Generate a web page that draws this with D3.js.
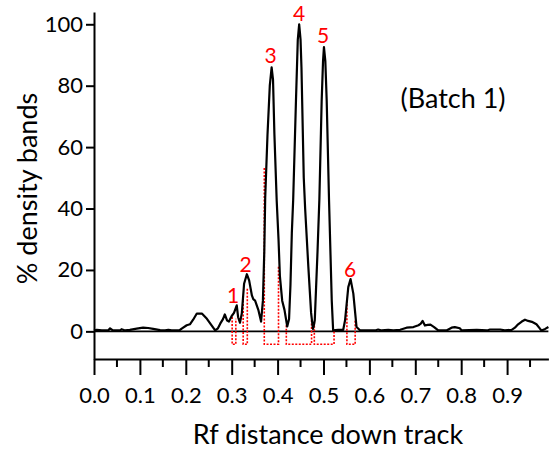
<!DOCTYPE html>
<html>
<head>
<meta charset="utf-8">
<script src="https://cdn.jsdelivr.net/npm/d3@7"></script>
<style>
  body { margin: 0; background: #fff; }
  svg { display: block; font-family: Lato, "Open Sans", sans-serif; }
</style>
</head>
<body>
<svg id="chart" width="550" height="455"></svg>
<script>
// Densitometria de bandas (Batch 1)
const W = 550, H = 455;

// Traza: [Rf, % densidad]
const tracePoints = [
  [0.000, 0.3], [0.006, 0.5], [0.017, 0.3], [0.031, 0.3], [0.035, 1.0], [0.041, 0.3],
  [0.057, 0.3], [0.060, 0.7], [0.068, 0.3], [0.078, 0.5], [0.093, 0.9], [0.107, 1.2],
  [0.118, 1.1], [0.129, 0.8], [0.144, 0.4], [0.155, 0.3], [0.162, 0.5], [0.169, 0.3],
  [0.186, 0.3], [0.191, 0.9], [0.202, 2.0], [0.209, 2.3], [0.216, 3.8], [0.224, 5.8],
  [0.235, 5.8], [0.246, 4.1], [0.264, 0.3], [0.270, 1.0], [0.275, 2.5], [0.281, 4.0],
  [0.285, 5.5], [0.290, 3.5], [0.294, 3.2], [0.300, 5.0], [0.305, 6.0], [0.311, 8.5],
  [0.314, 4.6], [0.318, 2.8], [0.322, 5.8], [0.327, 15.5], [0.333, 18.6], [0.338, 16.6],
  [0.344, 11.7], [0.347, 10.5], [0.351, 10.0], [0.358, 7.0], [0.364, 3.2], [0.368, 10.0],
  [0.371, 26.0], [0.373, 43.5], [0.378, 64.0], [0.383, 80.0], [0.387, 86.0], [0.390, 82.0],
  [0.393, 64.4], [0.398, 42.7], [0.402, 30.0], [0.405, 18.0], [0.410, 10.0], [0.415, 7.0],
  [0.421, 1.6], [0.425, 4.0], [0.428, 15.0], [0.431, 32.0], [0.434, 43.0], [0.440, 75.0],
  [0.444, 95.0], [0.447, 100.0], [0.450, 95.0], [0.452, 86.0], [0.457, 50.0], [0.460, 40.0],
  [0.467, 21.0], [0.473, 6.0], [0.477, 0.8], [0.479, 2.0], [0.481, 3.6], [0.487, 26.0],
  [0.491, 43.0], [0.496, 75.0], [0.499, 88.0], [0.501, 92.6], [0.504, 88.0], [0.507, 75.0],
  [0.512, 43.0], [0.518, 10.0], [0.521, 0.3], [0.532, 0.5], [0.543, 0.5], [0.547, 3.6],
  [0.554, 14.4], [0.559, 17.0], [0.565, 12.3], [0.572, 1.4], [0.580, 0.3], [0.612, 0.3],
  [0.619, 0.6], [0.627, 0.3], [0.641, 0.5], [0.652, 0.3], [0.667, 0.5], [0.681, 1.2],
  [0.696, 1.4], [0.707, 2.0], [0.712, 2.5], [0.716, 3.4], [0.721, 1.9], [0.727, 2.1],
  [0.733, 2.2], [0.741, 1.4], [0.750, 0.3], [0.768, 0.3], [0.779, 1.2], [0.786, 1.4],
  [0.797, 1.0], [0.801, 0.3], [0.834, 0.5], [0.856, 0.3], [0.863, 0.6], [0.885, 0.6],
  [0.895, 0.3], [0.910, 0.5], [0.917, 1.2], [0.924, 2.3], [0.932, 3.2], [0.939, 3.8],
  [0.946, 3.4], [0.954, 3.1], [0.964, 2.3], [0.972, 0.8], [0.975, 0.3], [0.983, 0.8],
  [0.990, 1.4]
];

// Limites de integracion de cada banda: [Rf izq, alto izq, Rf der, alto der]
const bandBoxes = [
  [0.301, 4.7, 0.309, 4.1],
  [0.325, 11.2, 0.334, 14.4],
  [0.371, 53.2, 0.402, 21.5],
  [0.419, 2.0, 0.474, 3.6],
  [0.480, 3.0, 0.523, 0.0],
  [0.551, 10.0, 0.569, 3.8]
];
const boxBottom = -4.2;

// Etiquetas de bandas: [texto, Rf, valor de la linea base]
const bandLabels = [
  ["1", 0.303, 9.1],
  ["2", 0.3305, 19.3],
  ["3", 0.3845, 87.4],
  ["4", 0.4466, 101.1],
  ["5", 0.499, 93.8],
  ["6", 0.5577, 17.7]
];

const xTicks = [0, 0.1, 0.2, 0.3, 0.4, 0.5, 0.6, 0.7, 0.8, 0.9];
const xMinorTicks = [0.05, 0.15, 0.25, 0.35, 0.45, 0.55, 0.65, 0.75, 0.85, 0.95];
const yTicks = [0, 20, 40, 60, 80, 100];

const svg = d3.select("#chart");

const x = d3.scaleLinear().domain([0, 0.99]).range([94, 548.4]);
const y = d3.scaleLinear().domain([-9, 104]).range([359, 12]);

// Ejes
const xAxis = d3.axisBottom(x)
  .tickValues(xTicks)
  .tickFormat(d3.format(".1f"))
  .tickSize(16)
  .tickSizeOuter(0)
  .tickPadding(12);

svg.append("g")
  .attr("transform", `translate(0,${y(-9)})`)
  .call(xAxis)
  .call(g => g.select(".domain").attr("stroke", "#000").attr("stroke-width", 2))
  .call(g => g.selectAll(".tick line").attr("stroke", "#000").attr("stroke-width", 2))
  .call(g => g.selectAll(".tick text").attr("fill", "#000").style("font-size", "22px").style("font-family", "Lato"));

svg.append("g")
  .attr("transform", `translate(0,${y(-9)})`)
  .selectAll("line")
  .data(xMinorTicks)
  .join("line")
  .attr("x1", d => x(d)).attr("x2", d => x(d))
  .attr("y1", 0).attr("y2", 8)
  .attr("stroke", "#000").attr("stroke-width", 2);

const yAxis = d3.axisLeft(y)
  .tickValues(yTicks)
  .tickSize(8)
  .tickSizeOuter(0)
  .tickPadding(3);

svg.append("g")
  .attr("transform", `translate(${x(0)},0)`)
  .call(yAxis)
  .call(g => g.select(".domain").attr("stroke", "#000").attr("stroke-width", 2))
  .call(g => g.selectAll(".tick line").attr("stroke", "#000").attr("stroke-width", 2))
  .call(g => g.selectAll(".tick text").attr("fill", "#000").style("font-size", "22px").style("font-family", "Lato"));

// Linea de cero
svg.append("line")
  .attr("x1", x(0)).attr("x2", x(0.99))
  .attr("y1", y(0)).attr("y2", y(0))
  .attr("stroke", "#000").attr("stroke-width", 1.6);

// Cajas de integracion (rojo punteado)
svg.append("g")
  .selectAll("path")
  .data(bandBoxes)
  .join("path")
  .attr("d", d => `M${x(d[0])},${y(d[1])}V${y(boxBottom)}H${x(d[2])}V${y(d[3])}`)
  .attr("fill", "none")
  .attr("stroke", "#ff0000")
  .attr("stroke-width", 1.6)
  .attr("stroke-dasharray", "2,1.5");

// Traza
const line = d3.line()
  .x(d => x(d[0]))
  .y(d => y(d[1]));

svg.append("path")
  .datum(tracePoints)
  .attr("fill", "none")
  .attr("stroke", "#000")
  .attr("stroke-width", 2.2)
  .attr("stroke-linejoin", "round")
  .attr("d", line);

// Numeros de banda
svg.append("g")
  .selectAll("text")
  .data(bandLabels)
  .join("text")
  .attr("x", d => x(d[1]))
  .attr("y", d => y(d[2]))
  .attr("text-anchor", "middle")
  .attr("fill", "#ff0000")
  .style("font-size", "21px")
  .text(d => d[0]);

svg.append("text")
  .attr("x", 453)
  .attr("y", 108)
  .attr("text-anchor", "middle")
  .style("font-size", "27px")
  .text("(Batch 1)");

// Titulos de ejes
svg.append("text")
  .attr("x", 328)
  .attr("y", 444)
  .attr("text-anchor", "middle")
  .style("font-size", "27px")
  .text("Rf distance down track");

svg.append("text")
  .attr("transform", "translate(37,188.5) rotate(-90)")
  .attr("text-anchor", "middle")
  .style("font-size", "27px")
  .text("% density bands");
</script>
</body>
</html>
